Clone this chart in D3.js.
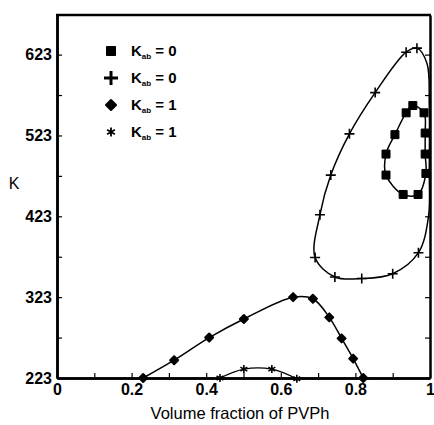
<!DOCTYPE html>
<html>
<head>
<meta charset="utf-8">
<script src="https://cdn.jsdelivr.net/npm/d3@7"></script>
<style>
  body { margin: 0; background: #fff; }
  text { font-family: "Liberation Sans", Arial, sans-serif; fill: #000; }
</style>
</head>
<body>
<svg width="434" height="425"></svg>
<script>
// squares, K_ab = 0 (closed loop, right side)
const squareX = [0.882, 0.882, 0.906, 0.936, 0.954, 0.984, 0.987, 0.987, 0.989, 0.968, 0.928];
const squareK = [474, 500, 524, 551, 560, 551, 526, 500, 476, 450, 450];
// plus, K_ab = 0 (closed loop; points on the frame carry no marker)
const plusX = [0.692, 0.705, 0.734, 0.784, 0.853, 0.936, 0.965, 0.992, 0.998, 0.998, 0.996, 0.969, 0.900, 0.817, 0.745];
const plusK = [372, 425, 474, 525, 576, 626, 631, 612, 560, 480, 423, 378, 352, 346, 348];
// diamonds, K_ab = 1
const diamondX = [0.231, 0.314, 0.408, 0.501, 0.633, 0.686, 0.730, 0.763, 0.794, 0.821];
const diamondK = [223, 245, 273, 296, 323, 321, 298, 272, 247, 223];
// stars, K_ab = 1
const starX = [0.437, 0.501, 0.576, 0.643];
const starK = [223, 234, 234, 222];

const yTicks = [223, 323, 423, 523, 623];
const yMinor = [273, 373, 473, 573];
const xTicks = [0, 0.2, 0.4, 0.6, 0.8, 1];
const xMinor = [0.1, 0.3, 0.5, 0.7, 0.9];
const legendLabels = ["0", "0", "1", "1"];

const svg = d3.select("svg");
const x = d3.scaleLinear().domain([0, 1]).range([57, 430]);
const y = d3.scaleLinear().domain([223, 672]).range([378, 15]);

const zip = (xs, ks) => xs.map((v, i) => [v, ks[i]]);

// marker shapes
const shape = {
  square: s => `M${-s/2},${-s/2}h${s}v${s}h${-s}Z`,
  plus: s => `M${-s/2},0H${s/2}M0,${-s/2}V${s/2}`,
  diamond: s => `M0,${-s/2}L${s/2},0L0,${s/2}L${-s/2},0Z`,
  star: s => {
    let p = "";
    [90, 30, -30].forEach(a => {
      const r = a * Math.PI / 180, dx = Math.cos(r) * s / 2, dy = Math.sin(r) * s / 2;
      p += `M${-dx},${-dy}L${dx},${dy}`;
    });
    return p;
  }
};
const filled = { square: true, diamond: true, plus: false, star: false };

function marker(g, kind, s, sw) {
  return g.append("path").attr("d", shape[kind](s))
    .attr("fill", filled[kind] ? "#000" : "none")
    .attr("stroke", "#000").attr("stroke-width", sw)
    .attr("stroke-linejoin", "round");
}

// curves
const line = d3.line().x(d => x(d[0])).y(d => y(d[1]));
svg.append("path").attr("d", line.curve(d3.curveCatmullRomClosed)(zip(squareX, squareK)))
  .attr("fill", "none").attr("stroke", "#000").attr("stroke-width", 1.5);
svg.append("path").attr("d", line.curve(d3.curveCatmullRomClosed)(zip(plusX, plusK)))
  .attr("fill", "none").attr("stroke", "#000").attr("stroke-width", 1.5);
svg.append("path").attr("d", line.curve(d3.curveCatmullRom)(zip(diamondX, diamondK)))
  .attr("fill", "none").attr("stroke", "#000").attr("stroke-width", 1.5);
svg.append("path").attr("d", line.curve(d3.curveCatmullRom)(zip(starX, starK)))
  .attr("fill", "none").attr("stroke", "#000").attr("stroke-width", 1.2);

// markers
function drawMarkers(pts, kind, s, sw) {
  pts.forEach(d => {
    marker(svg.append("g").attr("transform", `translate(${x(d[0])},${y(d[1])})`), kind, s, sw);
  });
}
drawMarkers(zip(squareX, squareK), "square", 8, 1);
drawMarkers(zip(plusX, plusK).filter(d => d[0] < 0.99), "plus", 10, 1.6);
drawMarkers(zip(diamondX, diamondK), "diamond", 8, 2);
drawMarkers(zip(starX, starK), "star", 8, 1.6);

// axes
const fmt = d => d === 0 ? "0" : d === 1 ? "1" : d3.format(".1f")(d);
svg.append("g").attr("transform", `translate(${x(0)},0)`)
  .call(d3.axisLeft(y).tickValues(yTicks).tickSize(-5).tickSizeOuter(0).tickPadding(5))
  .call(g => g.selectAll("text").attr("font-size", 16).attr("font-weight", "bold"));
svg.append("g").attr("transform", `translate(${x(0)},0)`)
  .call(d3.axisLeft(y).tickValues(yMinor).tickSize(-5).tickSizeOuter(0).tickFormat(""));
svg.append("g").attr("transform", `translate(${x(1)},0)`)
  .call(d3.axisRight(y).tickValues(yTicks.concat(yMinor)).tickSize(-5).tickSizeOuter(0).tickFormat(""));
svg.append("g").attr("transform", `translate(0,${y(223)})`)
  .call(d3.axisBottom(x).tickValues(xTicks).tickSize(-5).tickSizeOuter(0).tickPadding(6).tickFormat(fmt))
  .call(g => g.selectAll("text").attr("font-size", 16).attr("font-weight", "bold"));
svg.append("g").attr("transform", `translate(0,${y(223)})`)
  .call(d3.axisBottom(x).tickValues(xMinor).tickSize(-5).tickSizeOuter(0).tickFormat(""));
svg.selectAll(".tick line").attr("stroke-width", 1.2);
svg.selectAll(".domain").attr("stroke-width", 2.5);
svg.selectAll(".tick text").attr("font-family", "Liberation Sans, Arial, sans-serif");

// frame top
svg.append("line").attr("x1", x(0) - 1).attr("x2", x(1) + 1).attr("y1", y(672)).attr("y2", y(672))
  .attr("stroke", "#000").attr("stroke-width", 2.5);
svg.select("g:nth-of-type(3) .domain");

// axis titles
svg.append("text").attr("x", 240).attr("y", 419).attr("text-anchor", "middle")
  .attr("font-size", 16.5).text("Volume fraction of PVPh");
svg.append("text").attr("x", 14).attr("y", 189).attr("text-anchor", "middle")
  .attr("font-size", 16).text("K");

// legend
const legendKinds = ["square", "plus", "diamond", "star"];
const legendSize = [9, 14, 10, 9];
const legendSW = [1, 3, 2, 1.8];
legendKinds.forEach((k, i) => {
  const cy = 51 + i * 27;
  marker(svg.append("g").attr("transform", `translate(111,${cy})`), k, legendSize[i], legendSW[i]);
  const t = svg.append("text").attr("x", 131).attr("y", cy + 5)
    .attr("font-size", 15).attr("font-weight", "bold");
  t.append("tspan").text("K");
  t.append("tspan").attr("font-size", 8).attr("dy", 3).text("ab");
  t.append("tspan").attr("dy", -3).text(" = " + legendLabels[i]);
});
</script>
</body>
</html>
